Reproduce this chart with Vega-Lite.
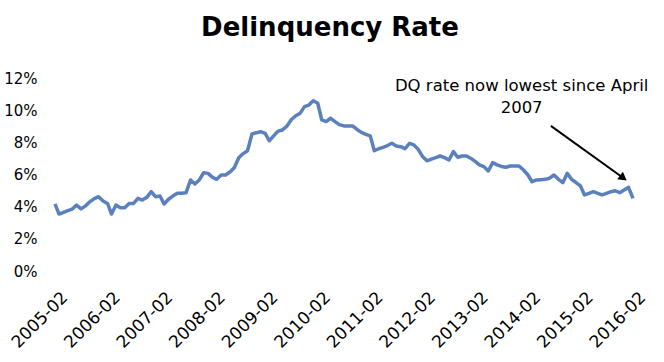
{
  "$schema": "https://vega.github.io/schema/vega-lite/v6.json",
  "autosize": "none",
  "width": 578,
  "height": 193,
  "padding": {"left": 55, "top": 78, "right": 31, "bottom": 91},
  "background": "white",
  "config": {"view": {"stroke": null}, "font": "DejaVu Sans"},
  "title": {"text": "Delinquency Rate", "font": "DejaVu Sans", "fontSize": 26, "fontWeight": "bold", "color": "#000000", "anchor": "middle", "dx": -14, "offset": 30},
  "datasets": {
    "dq": [
      {"date": "2005-02-01", "rate": 0.0417}, {"date": "2005-03-01", "rate": 0.0354}, {"date": "2005-04-01", "rate": 0.0365}, {"date": "2005-05-01", "rate": 0.0375}, {"date": "2005-06-01", "rate": 0.0385}, {"date": "2005-07-01", "rate": 0.041}, {"date": "2005-08-01", "rate": 0.0386}, {"date": "2005-09-01", "rate": 0.0405}, {"date": "2005-10-01", "rate": 0.043}, {"date": "2005-11-01", "rate": 0.045}, {"date": "2005-12-01", "rate": 0.0462},
      {"date": "2006-01-01", "rate": 0.0435}, {"date": "2006-02-01", "rate": 0.042}, {"date": "2006-03-01", "rate": 0.0354}, {"date": "2006-04-01", "rate": 0.041}, {"date": "2006-05-01", "rate": 0.0394}, {"date": "2006-06-01", "rate": 0.0394}, {"date": "2006-07-01", "rate": 0.042}, {"date": "2006-08-01", "rate": 0.042}, {"date": "2006-09-01", "rate": 0.0452}, {"date": "2006-10-01", "rate": 0.0441}, {"date": "2006-11-01", "rate": 0.0458}, {"date": "2006-12-01", "rate": 0.0493},
      {"date": "2007-01-01", "rate": 0.0462}, {"date": "2007-02-01", "rate": 0.0466}, {"date": "2007-03-01", "rate": 0.0417}, {"date": "2007-04-01", "rate": 0.0446}, {"date": "2007-05-01", "rate": 0.0466}, {"date": "2007-06-01", "rate": 0.0483}, {"date": "2007-07-01", "rate": 0.0483}, {"date": "2007-08-01", "rate": 0.0487}, {"date": "2007-09-01", "rate": 0.0566}, {"date": "2007-10-01", "rate": 0.0541}, {"date": "2007-11-01", "rate": 0.0566}, {"date": "2007-12-01", "rate": 0.0611},
      {"date": "2008-01-01", "rate": 0.0607}, {"date": "2008-02-01", "rate": 0.0582}, {"date": "2008-03-01", "rate": 0.057}, {"date": "2008-04-01", "rate": 0.0597}, {"date": "2008-05-01", "rate": 0.0597}, {"date": "2008-06-01", "rate": 0.0615}, {"date": "2008-07-01", "rate": 0.0642}, {"date": "2008-08-01", "rate": 0.0704}, {"date": "2008-09-01", "rate": 0.073}, {"date": "2008-10-01", "rate": 0.0748}, {"date": "2008-11-01", "rate": 0.0852}, {"date": "2008-12-01", "rate": 0.086},
      {"date": "2009-01-01", "rate": 0.0866}, {"date": "2009-02-01", "rate": 0.0856}, {"date": "2009-03-01", "rate": 0.081}, {"date": "2009-04-01", "rate": 0.084}, {"date": "2009-05-01", "rate": 0.087}, {"date": "2009-06-01", "rate": 0.0877}, {"date": "2009-07-01", "rate": 0.09}, {"date": "2009-08-01", "rate": 0.094}, {"date": "2009-09-01", "rate": 0.0965}, {"date": "2009-10-01", "rate": 0.098}, {"date": "2009-11-01", "rate": 0.1022}, {"date": "2009-12-01", "rate": 0.1032},
      {"date": "2010-01-01", "rate": 0.1059}, {"date": "2010-02-01", "rate": 0.1043}, {"date": "2010-03-01", "rate": 0.0939}, {"date": "2010-04-01", "rate": 0.0929}, {"date": "2010-05-01", "rate": 0.095}, {"date": "2010-06-01", "rate": 0.0929}, {"date": "2010-07-01", "rate": 0.091}, {"date": "2010-08-01", "rate": 0.0902}, {"date": "2010-09-01", "rate": 0.0902}, {"date": "2010-10-01", "rate": 0.0902}, {"date": "2010-11-01", "rate": 0.088}, {"date": "2010-12-01", "rate": 0.0862},
      {"date": "2011-01-01", "rate": 0.085}, {"date": "2011-02-01", "rate": 0.084}, {"date": "2011-03-01", "rate": 0.0748}, {"date": "2011-04-01", "rate": 0.076}, {"date": "2011-05-01", "rate": 0.0769}, {"date": "2011-06-01", "rate": 0.078}, {"date": "2011-07-01", "rate": 0.0794}, {"date": "2011-08-01", "rate": 0.0777}, {"date": "2011-09-01", "rate": 0.0773}, {"date": "2011-10-01", "rate": 0.0761}, {"date": "2011-11-01", "rate": 0.0794}, {"date": "2011-12-01", "rate": 0.0784},
      {"date": "2012-01-01", "rate": 0.0755}, {"date": "2012-02-01", "rate": 0.071}, {"date": "2012-03-01", "rate": 0.0685}, {"date": "2012-04-01", "rate": 0.0696}, {"date": "2012-05-01", "rate": 0.0705}, {"date": "2012-06-01", "rate": 0.0715}, {"date": "2012-07-01", "rate": 0.0705}, {"date": "2012-08-01", "rate": 0.069}, {"date": "2012-09-01", "rate": 0.0742}, {"date": "2012-10-01", "rate": 0.0707}, {"date": "2012-11-01", "rate": 0.0715}, {"date": "2012-12-01", "rate": 0.0715},
      {"date": "2013-01-01", "rate": 0.07}, {"date": "2013-02-01", "rate": 0.068}, {"date": "2013-03-01", "rate": 0.066}, {"date": "2013-04-01", "rate": 0.0649}, {"date": "2013-05-01", "rate": 0.0622}, {"date": "2013-06-01", "rate": 0.0674}, {"date": "2013-07-01", "rate": 0.066}, {"date": "2013-08-01", "rate": 0.065}, {"date": "2013-09-01", "rate": 0.0645}, {"date": "2013-10-01", "rate": 0.0653}, {"date": "2013-11-01", "rate": 0.0653}, {"date": "2013-12-01", "rate": 0.0653},
      {"date": "2014-01-01", "rate": 0.0628}, {"date": "2014-02-01", "rate": 0.0597}, {"date": "2014-03-01", "rate": 0.0555}, {"date": "2014-04-01", "rate": 0.0566}, {"date": "2014-05-01", "rate": 0.0568}, {"date": "2014-06-01", "rate": 0.057}, {"date": "2014-07-01", "rate": 0.0577}, {"date": "2014-08-01", "rate": 0.0597}, {"date": "2014-09-01", "rate": 0.057}, {"date": "2014-10-01", "rate": 0.0549}, {"date": "2014-11-01", "rate": 0.0607}, {"date": "2014-12-01", "rate": 0.057},
      {"date": "2015-01-01", "rate": 0.055}, {"date": "2015-02-01", "rate": 0.0529}, {"date": "2015-03-01", "rate": 0.0473}, {"date": "2015-04-01", "rate": 0.0483}, {"date": "2015-05-01", "rate": 0.0493}, {"date": "2015-06-01", "rate": 0.0483}, {"date": "2015-07-01", "rate": 0.0473}, {"date": "2015-08-01", "rate": 0.0483}, {"date": "2015-09-01", "rate": 0.0493}, {"date": "2015-10-01", "rate": 0.0499}, {"date": "2015-11-01", "rate": 0.0487}, {"date": "2015-12-01", "rate": 0.0504},
      {"date": "2016-01-01", "rate": 0.052}, {"date": "2016-02-01", "rate": 0.0452}
    ],
    "arrow": [
      {"date": "2014-07-10", "rate": 0.0902, "date2": "2015-11-26", "rate2": 0.0578}
    ],
    "note": [
      {"date": "2013-12-19", "rate": 0.1121, "text": ["DQ rate now lowest since April", "2007"]}
    ]
  },
  "layer": [
    {
      "data": {"name": "dq"},
      "mark": {"type": "line", "color": "#5b80be", "strokeWidth": 3.5, "strokeJoin": "round"},
      "encoding": {
        "x": {
          "field": "date", "type": "temporal",
          "scale": {"type": "utc", "domain": [{"year": 2005, "month": 2, "date": 1, "utc": true}, {"year": 2016, "month": 2, "date": 1, "utc": true}]},
          "axis": {
            "title": null, "labelExpr": "utcFormat(datum.value, '%Y-%m')", "grid": false, "domain": false, "ticks": false, "tickSize": 0,
            "labelAngle": -45, "labelAlign": "right", "labelBaseline": "top", "labelPadding": 18, "labelOffset": 4,
            "labelFont": "DejaVu Sans", "labelFontSize": 17, "labelColor": "#000000", "labelOverlap": false, "labelFlush": false, "labelBound": false,
            "values": [
              {"year": 2005, "month": 2, "date": 1, "utc": true}, {"year": 2006, "month": 2, "date": 1, "utc": true}, {"year": 2007, "month": 2, "date": 1, "utc": true}, {"year": 2008, "month": 2, "date": 1, "utc": true}, {"year": 2009, "month": 2, "date": 1, "utc": true}, {"year": 2010, "month": 2, "date": 1, "utc": true}, {"year": 2011, "month": 2, "date": 1, "utc": true}, {"year": 2012, "month": 2, "date": 1, "utc": true}, {"year": 2013, "month": 2, "date": 1, "utc": true}, {"year": 2014, "month": 2, "date": 1, "utc": true}, {"year": 2015, "month": 2, "date": 1, "utc": true}, {"year": 2016, "month": 2, "date": 1, "utc": true}
            ]
          }
        },
        "y": {
          "field": "rate", "type": "quantitative",
          "scale": {"domain": [0, 0.12], "nice": false, "zero": true},
          "axis": {
            "title": null, "values": [0, 0.02, 0.04, 0.06, 0.08, 0.1, 0.12], "tickCount": 7, "format": ".0%", "grid": false, "domain": false, "ticks": false, "tickSize": 0,
            "labelPadding": 18, "labelFont": "DejaVu Sans", "labelFontSize": 15, "labelColor": "#000000", "labelOverlap": false, "labelFlush": false, "labelBound": false
          }
        }
      }
    },
    {
      "data": {"name": "arrow"},
      "mark": {"type": "rule", "color": "#000000", "strokeWidth": 2},
      "encoding": {
        "x": {"field": "date", "type": "temporal"},
        "y": {"field": "rate", "type": "quantitative"},
        "x2": {"field": "date2"},
        "y2": {"field": "rate2"}
      }
    },
    {
      "data": {"name": "arrow"},
      "mark": {"type": "point", "shape": "triangle-up", "filled": true, "color": "#000000", "size": 90, "angle": 127, "opacity": 1},
      "encoding": {
        "x": {"field": "date2", "type": "temporal"},
        "y": {"field": "rate2", "type": "quantitative"}
      }
    },
    {
      "data": {"name": "note"},
      "mark": {"type": "text", "font": "DejaVu Sans", "fontSize": 16.5, "color": "#000000", "align": "center", "baseline": "alphabetic", "lineHeight": 22.6},
      "encoding": {
        "x": {"field": "date", "type": "temporal"},
        "y": {"field": "rate", "type": "quantitative"},
        "text": {"field": "text"}
      }
    }
  ]
}
